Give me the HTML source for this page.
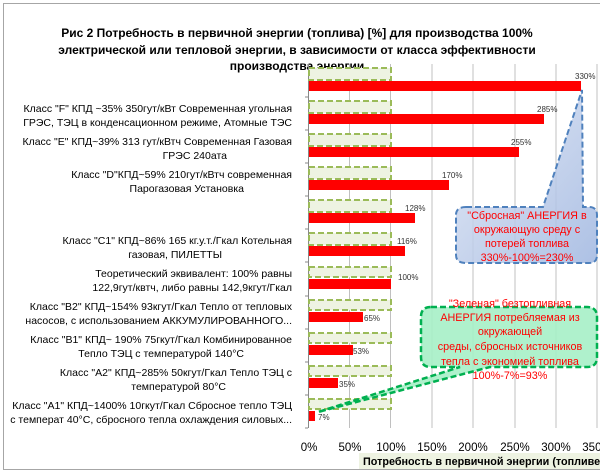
<!DOCTYPE html>
<html><head><meta charset="utf-8"><style>
html,body{margin:0;padding:0;background:#fff}
svg{display:block}
text{font-family:"Liberation Sans","DejaVu Sans",sans-serif}
</style></head><body>
<svg width="600" height="471" viewBox="0 0 600 471" xmlns="http://www.w3.org/2000/svg">
<defs>
<linearGradient id="bg" x1="0" y1="0" x2="1" y2="1"><stop offset="0" stop-color="#dfe6f4"/><stop offset="1" stop-color="#9fb6e0"/></linearGradient>
</defs>
<rect x="3.5" y="3.5" width="600" height="466" fill="#fff" stroke="#a6a6a6"/>
<g font-weight="bold" font-size="12" text-anchor="middle" fill="#000">
<text x="297" y="37">Рис 2   Потребность   в  первичной энергии (топлива)  [%]  для производства 100%</text>
<text x="297" y="54">электрической  или тепловой энергии,   в зависимости от   класса  эффективности</text>
<text x="297" y="70">производства энергии</text>
</g>
<g stroke="#c0c0c0" stroke-width="1">
<line x1="349.5" y1="64" x2="349.5" y2="428"/><line x1="390.5" y1="64" x2="390.5" y2="428"/>
<line x1="432" y1="64" x2="432" y2="428"/><line x1="473" y1="64" x2="473" y2="428"/>
<line x1="515" y1="64" x2="515" y2="428"/><line x1="556" y1="64" x2="556" y2="428"/>
<line x1="597" y1="64" x2="597" y2="428"/>
</g>
<line x1="308.5" y1="64" x2="308.5" y2="428" stroke="#888"/>
<g stroke="#888">
<line x1="305" y1="97" x2="308" y2="97"/><line x1="305" y1="130" x2="308" y2="130"/><line x1="305" y1="163" x2="308" y2="163"/><line x1="305" y1="196" x2="308" y2="196"/><line x1="305" y1="229" x2="308" y2="229"/><line x1="305" y1="262" x2="308" y2="262"/><line x1="305" y1="296" x2="308" y2="296"/><line x1="305" y1="329" x2="308" y2="329"/><line x1="305" y1="362" x2="308" y2="362"/><line x1="305" y1="395" x2="308" y2="395"/><line x1="305" y1="428" x2="308" y2="428"/>
</g>
<g fill="#eef3e2" stroke="#9bbb59" stroke-width="2" stroke-dasharray="6,3">
<rect x="309" y="68" width="82" height="12"/><rect x="309" y="101" width="82" height="12"/><rect x="309" y="134" width="82" height="12"/><rect x="309" y="167" width="82" height="12"/><rect x="309" y="200" width="82" height="12"/><rect x="309" y="233" width="82" height="12"/><rect x="309" y="267" width="82" height="10"/><rect x="309" y="300" width="82" height="10"/><rect x="309" y="333" width="82" height="10"/><rect x="309" y="366" width="82" height="10"/><rect x="309" y="399" width="82" height="10"/>
</g>
<g fill="#ff0000">
<rect x="309" y="81" width="272" height="10"/>
<rect x="309" y="114" width="235" height="10"/>
<rect x="309" y="147" width="210" height="10"/>
<rect x="309" y="180" width="140" height="10"/>
<rect x="309" y="213" width="106" height="10"/>
<rect x="309" y="246" width="96" height="10"/>
<rect x="309" y="279" width="82" height="10"/>
<rect x="309" y="312" width="54" height="10"/>
<rect x="309" y="345" width="44" height="10"/>
<rect x="309" y="378" width="29" height="10"/>
<rect x="309" y="411" width="6" height="10"/>
</g>
<g font-size="8" fill="#333">
<text x="575" y="79">330%</text><text x="537" y="112">285%</text><text x="511" y="145">255%</text><text x="442" y="178">170%</text><text x="405" y="211">128%</text><text x="397" y="244">116%</text><text x="398" y="280">100%</text><text x="364" y="321">65%</text><text x="353" y="354">53%</text><text x="339" y="387">35%</text><text x="318" y="420">7%</text>
</g>
<g font-size="10.5" text-anchor="end" fill="#000">
<text x="292" y="112">Класс "F" КПД ~35% 350гут/кВт Современная угольная</text>
<text x="292" y="126">ГРЭС, ТЭЦ в конденсационном  режиме,  Атомные ТЭС</text>
<text x="292" y="145">Класс "E"  КПД~39%  313 гут/кВтч  Современная Газовая</text>
<text x="227" y="159">ГРЭС 240ата</text>
<text x="292" y="178">Класс "D"КПД~59% 210гут/кВтч  современная</text>
<text x="244" y="192">Парогазовая Установка</text>
<text x="292" y="244">Класс "C1" КПД~86% 165 кг.у.т./Гкал  Котельная</text>
<text x="222" y="258">газовая, ПИЛЕТТЫ</text>
<text x="292" y="277">Теоретический  эквивалент:  100% равны</text>
<text x="292" y="291">122,9гут/квтч,  либо равны 142,9кгут/Гкал</text>
<text x="292" y="310">Класс "B2" КПД~154%  93кгут/Гкал  Тепло от тепловых</text>
<text x="292" y="324">насосов, с использованием  АККУМУЛИРОВАННОГО...</text>
<text x="292" y="343">Класс "B1" КПД~ 190% 75гкут/Гкал Комбинированное</text>
<text x="244" y="357">Тепло ТЭЦ с температурой 140°C</text>
<text x="292" y="376">Класс "A2"  КПД~285% 50кгут/Гкал Тепло ТЭЦ с</text>
<text x="226" y="390">температурой  80°C</text>
<text x="292" y="409">Класс "A1" КПД~1400% 10гкут/Гкал Сбросное тепло ТЭЦ</text>
<text x="292" y="423">с температ 40°C, сбросного тепла охлаждения силовых...</text>
</g>
<g font-size="11.5" text-anchor="middle" fill="#000">
<text x="309" y="451">0%</text><text x="350" y="451">50%</text><text x="391" y="451">100%</text><text x="432" y="451">150%</text><text x="473" y="451">200%</text><text x="515" y="451">250%</text><text x="556" y="451">300%</text><text x="597" y="451">350%</text>
</g>
<rect x="359" y="453" width="245" height="16" fill="#eef3e2"/>
<text x="363" y="465" font-size="10.8" font-weight="bold">Потребность в первичной  энергии (топливе)  [%]</text>
<path d="M466 207 L543 207 L582 90 L583 207 L589 207 Q597 207 597 215 L597 255 Q597 263 589 263 L466 263 Q456 263 456 255 L456 215 Q456 207 466 207 Z" fill="url(#bg)" fill-opacity="0.85" stroke="#4f81bd" stroke-width="2" stroke-dasharray="6,3"/>
<g font-size="10.8" fill="#ff0000" text-anchor="middle">
<text x="527" y="219">"Сбросная"  АНЕРГИЯ в</text>
<text x="527" y="233">окружающую среду  с</text>
<text x="527" y="247">потерей  топлива</text>
<text x="527" y="261">330%-100%=230%</text>
</g>
<path d="M431 307 L587 307 Q597 307 597 317 L597 357 Q597 367 587 367 L490 367 L318 412 L460 367 L431 367 Q421 367 421 357 L421 317 Q421 307 431 307 Z" fill="#a6f0c6" fill-opacity="0.9" stroke="#00b050" stroke-width="2.5" stroke-dasharray="6,3"/>
<g font-size="10.8" fill="#ff0000" text-anchor="middle">
<text x="510" y="307">"Зеленая"  безтопливная</text>
<text x="510" y="321">АНЕРГИЯ  потребляемая из</text>
<text x="510" y="335">окружающей</text>
<text x="510" y="350">среды, сбросных источников</text>
<text x="510" y="365">тепла   с экономией топлива</text>
<text x="510" y="379">100%-7%=93%</text>
</g>
</svg>
</body></html>
